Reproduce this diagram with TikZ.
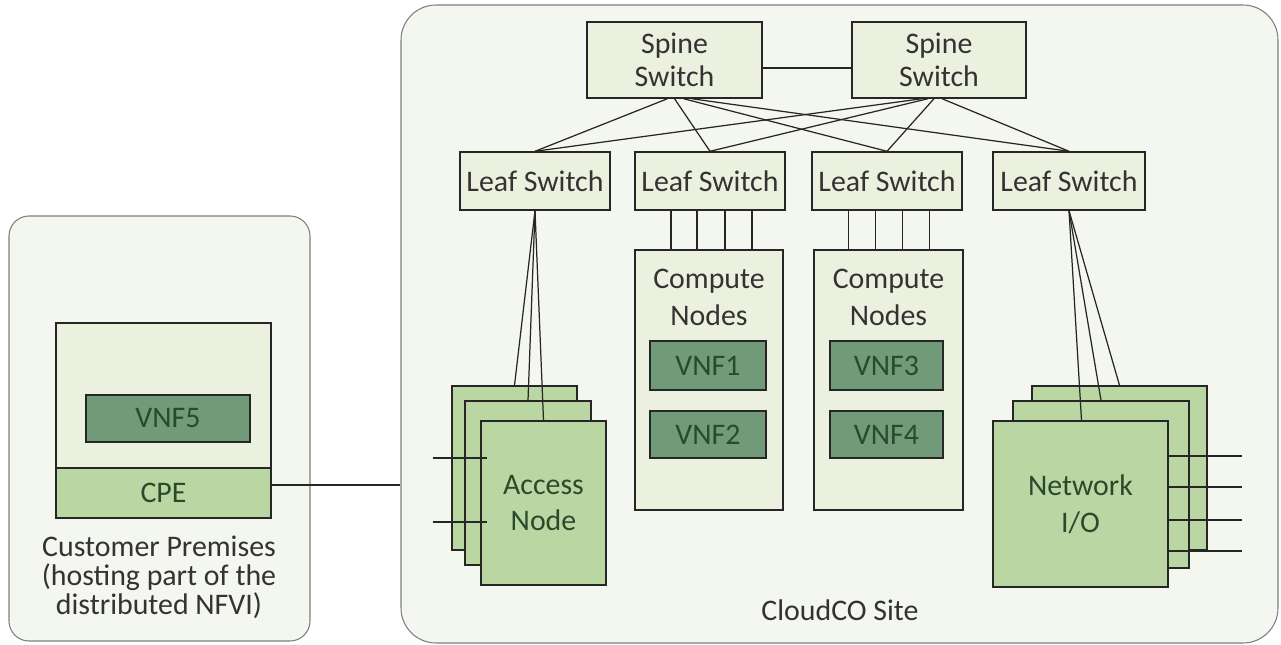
\documentclass[tikz,border=0pt]{standalone}
\usepackage{fontspec}
\setmainfont{Carlito}
\usetikzlibrary{fit,calc}
\definecolor{contfill}{HTML}{F4F6F0}
\definecolor{contline}{HTML}{7F7F7F}
\definecolor{lightg}{HTML}{EBF1DE}
\definecolor{midg}{HTML}{BAD6A2}
\definecolor{darkg}{HTML}{709A78}
\definecolor{edge}{HTML}{262626}
\definecolor{txt}{HTML}{333333}
\definecolor{txtg}{HTML}{2A4A2E}
\begin{document}
\begin{tikzpicture}[x=0.02cm,y=-0.02cm,
  container/.style={draw=contline, fill=contfill, line width=0.6pt, inner sep=0pt},
  swbox/.style={draw=edge, fill=lightg, line width=0.8pt, inner sep=0pt},
  compbox/.style={draw=edge, fill=lightg, line width=0.8pt, inner sep=0pt},
  card/.style={draw=edge, fill=midg, line width=0.8pt, inner sep=0pt},
  vnf/.style={draw=edge, fill=darkg, line width=0.8pt, inner sep=0pt},
  lbl/.style={align=center, text=txt, inner sep=0pt, font=\fontsize{17}{19}\selectfont},
  glbl/.style={align=center, text=txtg, inner sep=0pt, font=\fontsize{17}{21}\selectfont},
  link/.style={draw=edge, line width=0.7pt}
]
\useasboundingbox (0,0) rectangle (1281,645);
% containers
\node[container, rounded corners=0.4cm, fit={(9,216) (310,641)}] (cust) {};
\node[container, rounded corners=0.7cm, fit={(401,5) (1278,643)}] (cloud) {};
% spine switches
\node[swbox, fit={(587,22) (762,98)}] (s1) {};
\node[swbox, fit={(852,22) (1026,98)}] (s2) {};
\node[lbl] (s1t) at (s1.center) {Spine\\Switch};
\node[lbl] (s2t) at (s2.center) {Spine\\Switch};
% leaf switches
\node[swbox, fit={(460,152) (610,210)}] (l1) {};
\node[swbox, fit={(635,152) (785,210)}] (l2) {};
\node[swbox, fit={(812,152) (962,210)}] (l3) {};
\node[swbox, fit={(993,152) (1145,210)}] (l4) {};
\foreach \n in {l1,l2,l3,l4}{
  \node[lbl] (\n t) at (\n.center) {Leaf Switch};
}
% spine links
\coordinate (sl) at ($(s1.east)+(0,8)$);
\draw[link] (sl) -- (sl -| s2.west);
\draw[link] ($(s1.south)+(-7,0)$) -- (l1.north);
\draw[link] ($(s1.south)+(0,0)$) -- (l2.north);
\draw[link] ($(s1.south)+(9,0)$) -- (l3.north);
\draw[link] ($(s1.south)+(17,0)$) -- (l4.north);
\draw[link] ($(s2.south)+(-17,0)$) -- (l1.north);
\draw[link] ($(s2.south)+(-11,0)$) -- (l2.north);
\draw[link] ($(s2.south)+(-5,0)$) -- (l3.north);
\draw[link] ($(s2.south)+(3,0)$) -- (l4.north);
% compute nodes
\node[compbox, fit={(635,250) (783,510)}] (c1) {};
\node[compbox, fit={(814,250) (963,510)}] (c2) {};
\node[lbl, font=\fontsize{17}{21}\selectfont] (c1t) at ($(c1.north)+(0,48)$) {Compute\\Nodes};
\node[lbl, font=\fontsize{17}{21}\selectfont] (c2t) at ($(c2.north)+(0,48)$) {Compute\\Nodes};
\node[vnf, fit={(650,341) (766,390)}] (v1) {};
\node[vnf, fit={(650,411) (766,458)}] (v2) {};
\node[vnf, fit={(830,341) (943,390)}] (v3) {};
\node[vnf, fit={(830,411) (943,458)}] (v4) {};
\node[glbl] (v1t) at (v1.center) {VNF1};
\node[glbl] (v2t) at (v2.center) {VNF2};
\node[glbl] (v3t) at (v3.center) {VNF3};
\node[glbl] (v4t) at (v4.center) {VNF4};
\foreach \d [count=\i] in {-38,-12,16,43}{
  \coordinate (ca\i) at ($(c1.north)+(\d,0)$);
  \draw[link] (ca\i) -- (ca\i |- l2.south);
}
\foreach \d [count=\i] in {-40,-13,14,41}{
  \coordinate (cb\i) at ($(c2.north)+(\d,0)$);
  \draw[link] (cb\i) -- (cb\i |- l3.south);
}
% access node cards
\node[card, fit={(452,386) (577,550)}] (a1) {};
\node[card, fit={(465,401) (591,565)}] (a2) {};
\node[card, fit={(481,421) (606,585)}] (a3) {};
\node[glbl] (a3t) at (a3.center) {Access\\Node};
\draw[link] (l1.south) -- (a1.north);
\draw[link] (l1.south) -- (a2.north);
\draw[link] (l1.south) -- (a3.north);
\coordinate (as1) at (433,458);
\coordinate (as2) at (433,522);
\draw[link] (as1) -- ++(54,0);
\draw[link] (as2) -- ++(54,0);
% network I/O cards
\node[card, fit={(1032,386) (1207,550)}] (n1) {};
\node[card, fit={(1013,401) (1189,568)}] (n2) {};
\node[card, fit={(993,421) (1168,587)}] (n3) {};
\node[glbl] (n3t) at (n3.center) {Network\\I/O};
\draw[link] (l4.south) -- (n1.north);
\draw[link] (l4.south) -- (n2.north);
\draw[link] ($(n3.north)+(1,0)$) -- (l4.south);
\foreach \yy [count=\i] in {456,487,520,551}{
  \coordinate (ns\i) at (1242,\yy);
  \draw[link] (ns\i) -- (ns\i -| n3.east);
}
% CPE
\node[compbox, fit={(56,323) (271,468)}] (cpeup) {};
\node[card, fit={(56,468) (271,518)}] (cpe) {};
\node[glbl] (cpet) at (cpe.center) {CPE};
\node[vnf, fit={(86,395) (250,442)}] (v5) {};
\node[glbl] (v5t) at (v5.center) {VNF5};
\coordinate (cl) at ($(cpe.east)+(0,-8)$);
\draw[link] (cl) -- (cl -| cloud.west);
% labels
\node[lbl, font=\fontsize{17}{16.5}\selectfont] (custt) at (159,577) {Customer Premises\\(hosting part of the\\distributed NFVI)};
\node[lbl] (cloudt) at (840,610) {CloudCO Site};
\end{tikzpicture}
\end{document}
